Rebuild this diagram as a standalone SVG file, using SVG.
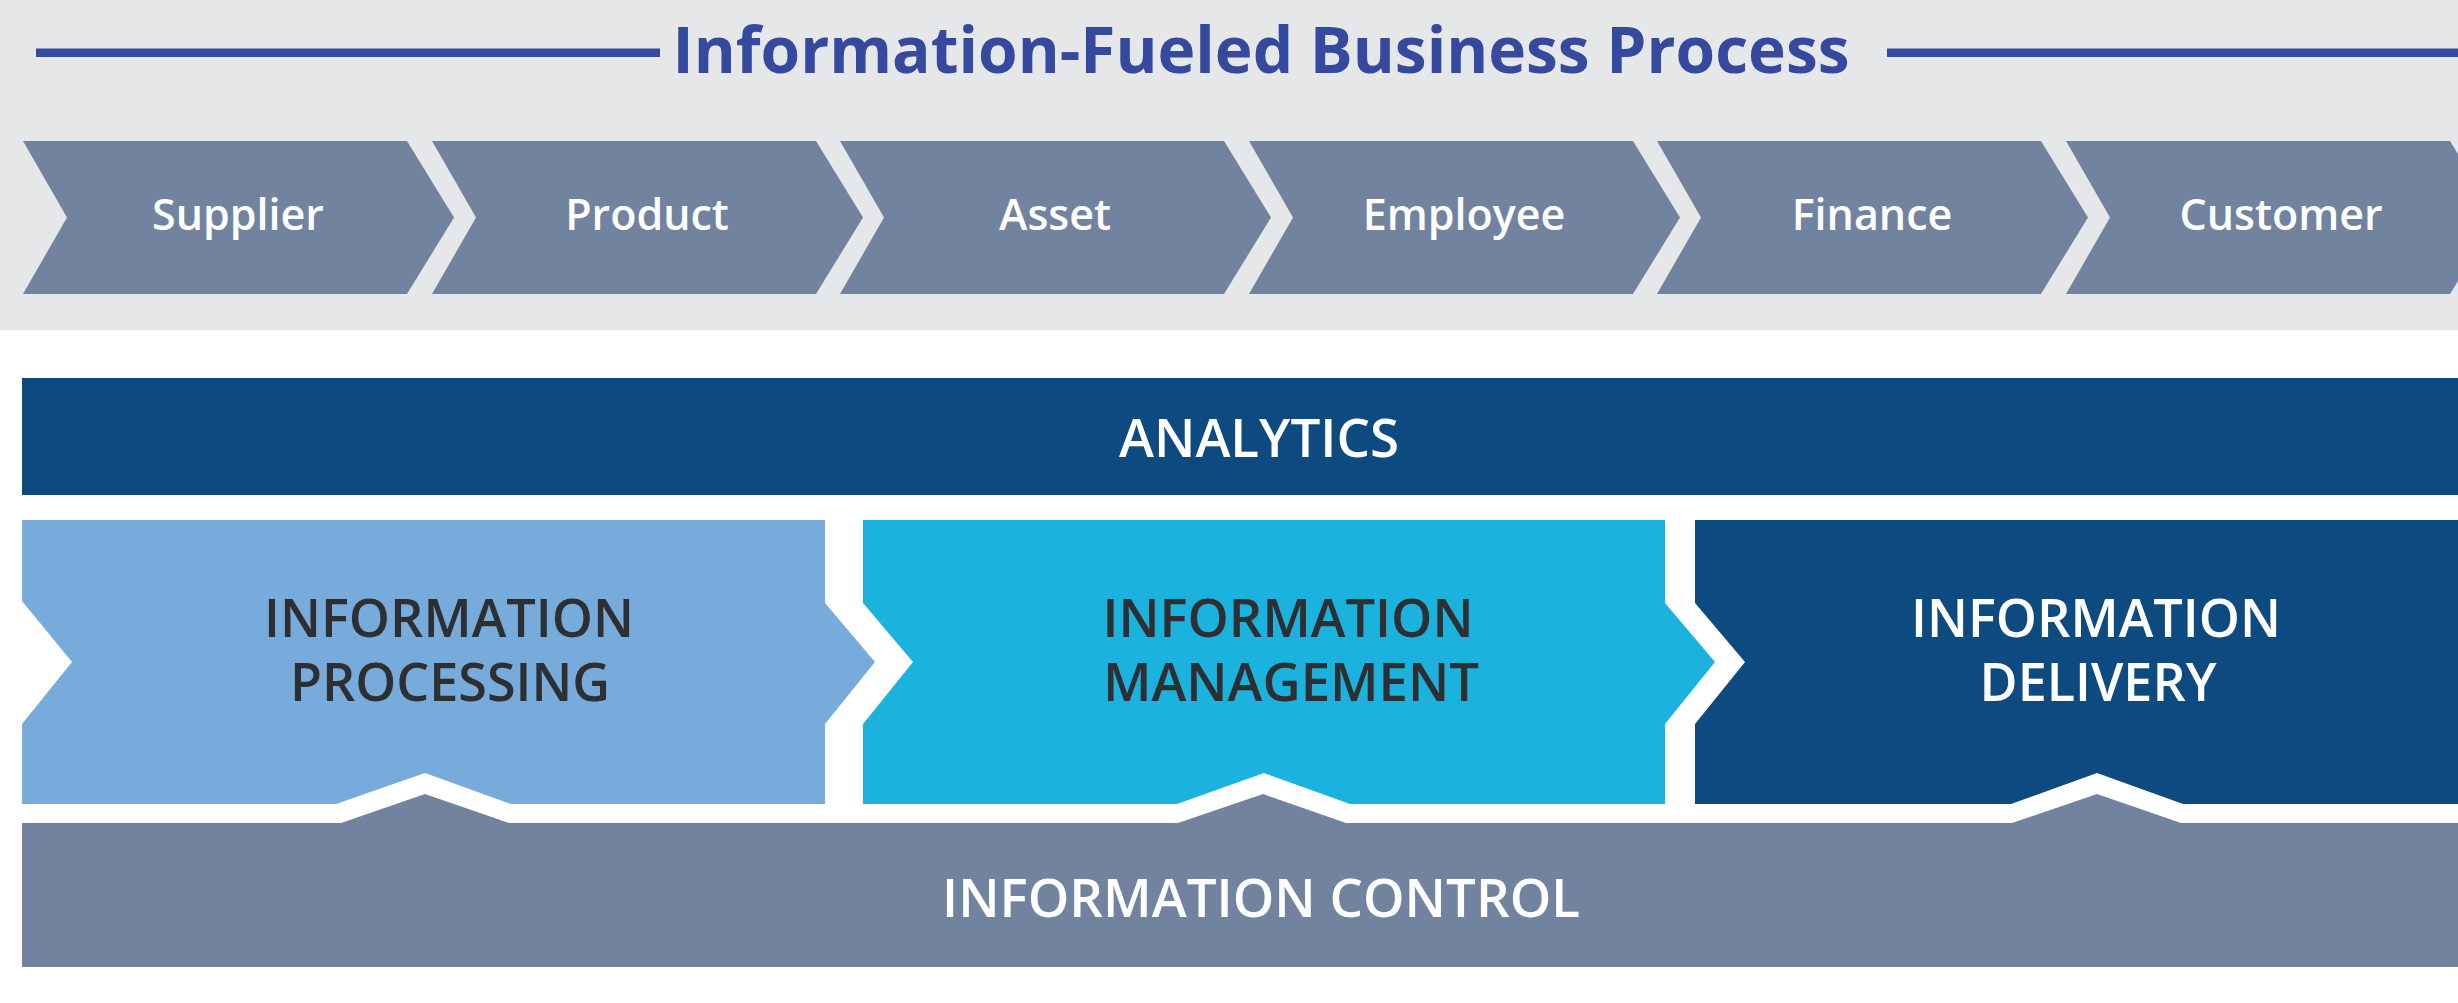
<svg xmlns="http://www.w3.org/2000/svg" width="2458" height="1003" viewBox="0 0 2458 1003">
<style>
.chev{fill:#7283a0}
.clab{font-family:"Open Sans","Liberation Sans",sans-serif;font-weight:600;font-size:43px;fill:#ffffff;text-anchor:middle}
.big{font-family:"Open Sans","Liberation Sans",sans-serif;font-weight:600;font-size:53px;text-anchor:middle}
.dark{fill:#2d2f33}
.light{fill:#ffffff}
.title{font-family:"Open Sans","Liberation Sans",sans-serif;font-weight:700;font-size:64px;fill:#354a9f;text-anchor:middle}
</style>
<rect x="0" y="0" width="2458" height="330" fill="#e6e7e9"/>
<rect x="0" y="330" width="2458" height="673" fill="#ffffff"/>
<g id="title">
<rect x="36" y="48.5" width="624" height="8.5" fill="#354a9f"/>
<rect x="1887" y="48.5" width="571" height="8.5" fill="#354a9f"/>
<text class="title" x="1261" y="73">Information-Fueled Business Process</text>
</g>
<g id="supplier"><polygon class="chev" points="23,141 407,141 454,217.5 407,294 23,294 67,217.5"/><text class="clab" x="238" y="230">Supplier</text></g>
<g id="product"><polygon class="chev" points="432,141 816,141 863,217.5 816,294 432,294 476,217.5"/><text class="clab" x="647" y="230">Product</text></g>
<g id="asset"><polygon class="chev" points="840,141 1224,141 1271,217.5 1224,294 840,294 884,217.5"/><text class="clab" x="1055" y="230">Asset</text></g>
<g id="employee"><polygon class="chev" points="1249,141 1633,141 1680,217.5 1633,294 1249,294 1293,217.5"/><text class="clab" x="1464" y="230">Employee</text></g>
<g id="finance"><polygon class="chev" points="1657,141 2041,141 2088,217.5 2041,294 1657,294 1701,217.5"/><text class="clab" x="1872" y="230">Finance</text></g>
<g id="customer"><polygon class="chev" points="2066,141 2450,141 2497,217.5 2450,294 2066,294 2110,217.5"/><text class="clab" x="2281" y="230">Customer</text></g>
<g id="analytics">
<rect x="22" y="378" width="2436" height="117" fill="#0c4a80"/>
<text class="big light" x="1259" y="457" textLength="280" lengthAdjust="spacingAndGlyphs">ANALYTICS</text>
</g>
<g id="processing">
<polygon fill="#76abdb" points="22,520 825,520 825,603 875,662 825,724 825,804 511,804 425,773 336,804 22,804 22,724 72,662 22,601"/>
<text class="big dark" x="449" y="637" textLength="370" lengthAdjust="spacingAndGlyphs">INFORMATION</text>
<text class="big dark" x="450" y="701" textLength="320" lengthAdjust="spacingAndGlyphs">PROCESSING</text>
</g>
<g id="management">
<polygon fill="#1cb2de" points="863,520 1665,520 1665,603 1715,662 1665,724 1665,804 1350,804 1264,773 1177,804 863,804 863,724 913,662 863,603"/>
<text class="big dark" x="1288" y="637" textLength="371" lengthAdjust="spacingAndGlyphs">INFORMATION</text>
<text class="big dark" x="1291" y="701" textLength="376" lengthAdjust="spacingAndGlyphs">MANAGEMENT</text>
</g>
<g id="delivery">
<polygon fill="#0c4a80" points="1695,520 2458,520 2458,804 2183,804 2097,773 2011,804 1695,804 1695,724 1745,662 1695,603"/>
<text class="big light" x="2096" y="637" textLength="370" lengthAdjust="spacingAndGlyphs">INFORMATION</text>
<text class="big light" x="2098" y="701" textLength="237" lengthAdjust="spacingAndGlyphs">DELIVERY</text>
</g>
<g id="control">
<polygon fill="#7283a0" points="22,823 341,823 425,794 509,823 1178,823 1263,794 1346,823 2012,823 2097,794 2181,823 2458,823 2458,967 22,967"/>
<text class="big light" x="1261" y="917" textLength="638" lengthAdjust="spacingAndGlyphs">INFORMATION CONTROL</text>
</g>
<g id="connectors"></g>
</svg>
